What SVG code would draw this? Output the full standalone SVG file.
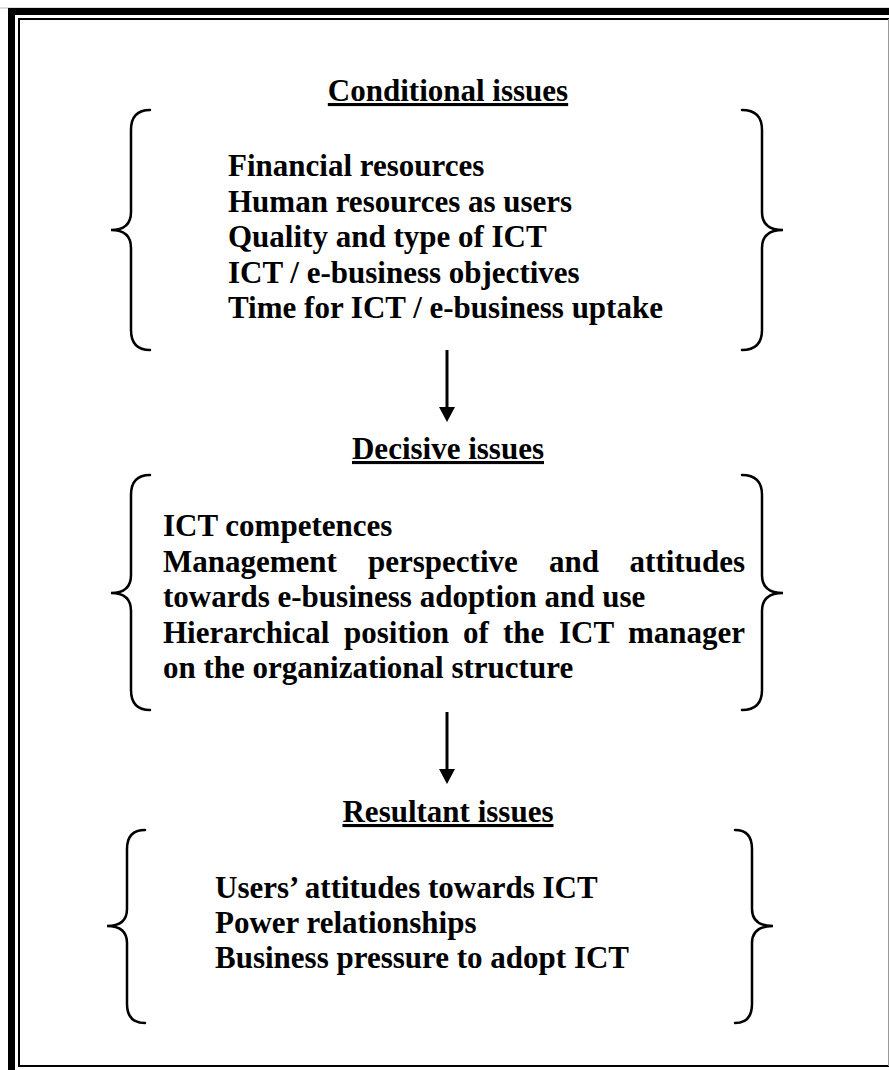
<svg xmlns="http://www.w3.org/2000/svg" width="889" height="1070" viewBox="0 0 889 1070">
  <style>
    .t { font-family: "Liberation Serif", "Times New Roman", serif; font-weight: bold; font-size: 31px; fill: #000; }
    .h { text-decoration: underline; text-anchor: middle; }
    .end { text-anchor: end; }
    .brace { fill: none; stroke: #000; stroke-width: 2.5; stroke-linecap: round; }
    .shaft { stroke: #000; stroke-width: 3; }
  </style>
  <defs>
    <marker id="head" viewBox="0 0 15 16" refX="1" refY="8" markerWidth="15" markerHeight="16" markerUnits="userSpaceOnUse" orient="auto">
      <path d="M0,0 L15,8 L0,16 Z" fill="#000"/>
    </marker>
  </defs>
  <rect width="889" height="1070" fill="#fff"/>

  <!-- page frame: heavy outer rule with a thin rule inside -->
  <g id="frame">
    <line x1="0" y1="8" x2="889" y2="8" stroke="#bbb" stroke-width="1"/>
    <rect x="11.5" y="11.5" width="900" height="1100" fill="none" stroke="#000" stroke-width="7"/>
    <rect x="19" y="19" width="900" height="1047" fill="none" stroke="#000" stroke-width="2"/>
    <line x1="888.5" y1="19" x2="888.5" y2="1066" stroke="#999" stroke-width="1"/>
  </g>

  <!-- conditional issues -->
  <g id="conditional">
    <text class="t h" x="448" y="101">Conditional issues</text>
    <path class="brace" d="M150,110 Q131,110 131,130 L131,212 Q131,230 111,230 Q131,230 131,248 L131,330 Q131,350 150,350"/>
    <path class="brace" d="M742,110 Q762,110 762,130 L762,212 Q762,230 783,230 Q762,230 762,248 L762,330 Q762,350 742,350"/>
    <text class="t" x="228" y="176">Financial resources</text>
    <text class="t" x="228" y="211.5">Human resources as users</text>
    <text class="t" x="228" y="247">Quality and type of ICT</text>
    <text class="t" x="228" y="282.5">ICT / e-business objectives</text>
    <text class="t" x="228" y="318">Time for ICT / e-business uptake</text>
  </g>

  <!-- decisive issues: lines 2 and 4 are justified to the right margin -->
  <g id="decisive">
    <text class="t h" x="448" y="459">Decisive issues</text>
    <path class="brace" d="M150,475 Q131,475 131,495 L131,575 Q131,593 111,593 Q131,593 131,611 L131,690 Q131,710 150,710"/>
    <path class="brace" d="M742,475 Q762,475 762,495 L762,575 Q762,593 783,593 Q762,593 762,611 L762,690 Q762,710 742,710"/>
    <text class="t" x="163" y="536">ICT competences</text>
    <text class="t" y="571.5"><tspan x="163">Management</tspan><tspan x="368">perspective</tspan><tspan x="549">and</tspan><tspan x="745" class="end">attitudes</tspan></text>
    <text class="t" x="163" y="607">towards e-business adoption and use</text>
    <text class="t" y="642.5"><tspan x="163">Hierarchical</tspan><tspan x="344">position</tspan><tspan x="463">of</tspan><tspan x="503">the</tspan><tspan x="559">ICT</tspan><tspan x="745" class="end">manager</tspan></text>
    <text class="t" x="163" y="678">on the organizational structure</text>
  </g>

  <!-- resultant issues -->
  <g id="resultant">
    <text class="t h" x="448" y="822">Resultant issues</text>
    <path class="brace" d="M145,830 Q127,830 127,849 L127,909 Q127,926 107,926 Q127,926 127,943 L127,1004 Q127,1023 145,1023"/>
    <path class="brace" d="M735,830 Q752,830 752,849 L752,909 Q752,926 773,926 Q752,926 752,943 L752,1004 Q752,1023 735,1023"/>
    <text class="t" x="215" y="898">Users’ attitudes towards ICT</text>
    <text class="t" x="215" y="933">Power relationships</text>
    <text class="t" x="215" y="968">Business pressure to adopt ICT</text>
  </g>

  <!-- flow between the three groups -->
  <g id="connectors">
    <line class="shaft" x1="447" y1="350" x2="447" y2="408" marker-end="url(#head)"/>
    <line class="shaft" x1="447" y1="712" x2="447" y2="770" marker-end="url(#head)"/>
  </g>
</svg>
